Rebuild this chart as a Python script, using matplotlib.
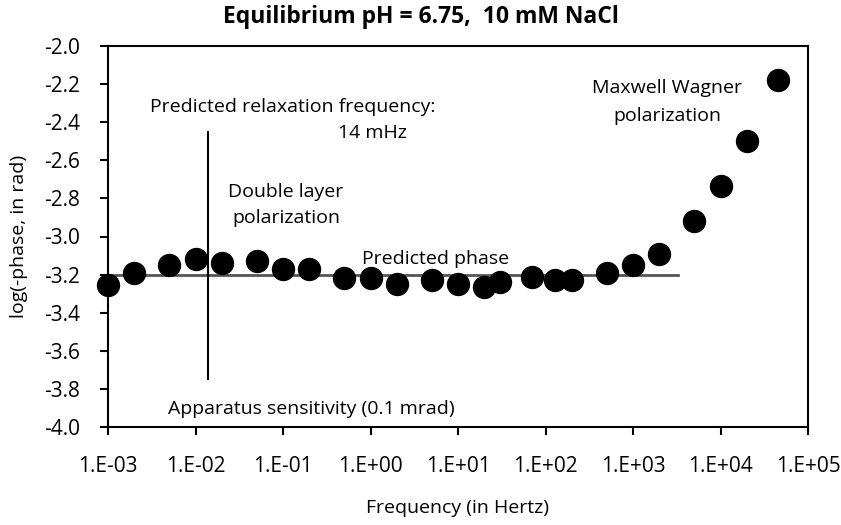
import matplotlib
matplotlib.use('Agg')
import matplotlib.pyplot as plt
import numpy as np

# data
freq = [1e-3, 2e-3, 5e-3, 1e-2, 2e-2, 5e-2, 0.1, 0.2, 0.5, 1, 2, 5, 10, 20, 30,
        70, 130, 200, 500, 1000, 2000, 5000, 1e4, 2e4, 4.5e4]
log_phase = [-3.255, -3.19, -3.15, -3.12, -3.14, -3.13, -3.17, -3.17, -3.22, -3.22,
             -3.25, -3.23, -3.25, -3.265, -3.24, -3.21, -3.23, -3.23, -3.19, -3.15,
             -3.09, -2.92, -2.735, -2.50, -2.18]
pred_phase = -3.2
pred_x = [1e-3, 3.3e3]
relax_f = 0.014
relax_y = [-3.75, -2.45]
xticks = [1e-3, 1e-2, 1e-1, 1e0, 1e1, 1e2, 1e3, 1e4, 1e5]
xticklabels = ['1.E-03', '1.E-02', '1.E-01', '1.E+00', '1.E+01', '1.E+02',
               '1.E+03', '1.E+04', '1.E+05']
yticks = [-4.0, -3.8, -3.6, -3.4, -3.2, -3.0, -2.8, -2.6, -2.4, -2.2, -2.0]

plt.rcParams['font.family'] = ['Open Sans', 'DejaVu Sans']

W, H = 841, 525
fig = plt.figure(figsize=(W/100, H/100), dpi=100)
ax = fig.add_axes([108/W, 1-427/H, 700/W, 381/H])

def note(x, y, s, ha='center', **kw):
    # x, y in pixels from top-left of the picture
    fig.text(x/W, 1-y/H, s, ha=ha, va='center', **{'fontsize': 14, **kw})

ax.plot(pred_x, [pred_phase, pred_phase], color='#555555', lw=2, zorder=2)
ax.plot([relax_f, relax_f], relax_y, color='black', lw=1.5, zorder=2)
ax.scatter(freq, log_phase, s=250, color='black', zorder=3, clip_on=False)

ax.set_xscale('log')
ax.set_xlim(1e-3, 1e5)
ax.set_ylim(-4.0, -2.0)
ax.set_xticks(xticks)
ax.set_xticklabels(xticklabels)
ax.xaxis.set_minor_locator(matplotlib.ticker.NullLocator())
ax.set_yticks(yticks)
ax.set_yticklabels(['%.1f' % v for v in yticks])
ax.tick_params(axis='both', labelsize=15, direction='out', width=1.5, length=6)
ax.tick_params(axis='x', pad=15)
ax.tick_params(axis='y', pad=14)
for s in ax.spines.values():
    s.set_linewidth(1.5)

ax.set_xlabel('Frequency (in Hertz)', fontsize=14, labelpad=16)
ax.set_ylabel('log(-phase, in rad)', fontsize=14, labelpad=12)
note(W/2, 17, 'Equilibrium pH = 6.75,  10 mM NaCl', fontsize=16.5, fontweight='bold')

note(150, 107, 'Predicted relaxation frequency:', ha='left')
note(407, 133, '14 mHz', ha='right')
note(286, 192, 'Double layer')
note(286, 218, 'polarization')
note(436, 259, 'Predicted phase')
note(667, 88, 'Maxwell Wagner')
note(667, 116, 'polarization')
note(311, 409, 'Apparatus sensitivity (0.1 mrad)')

fig.savefig('out.png', dpi=100)
